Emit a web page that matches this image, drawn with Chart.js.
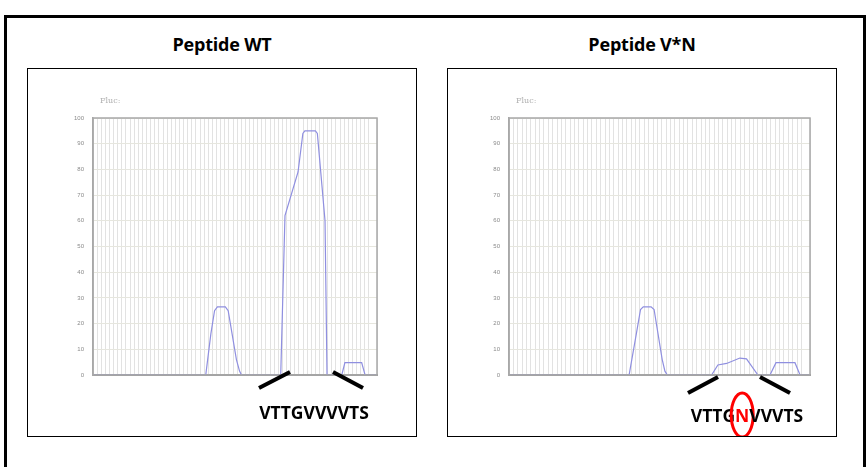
<!DOCTYPE html>
<html lang="en">
  <head>
    <meta charset="UTF-8" />
    <title>Peptide WT / Peptide V*N</title>
    <script src="https://cdnjs.cloudflare.com/ajax/libs/Chart.js/4.4.1/chart.umd.min.js"></script>
    <style>
      * {
        margin: 0;
        padding: 0;
        box-sizing: border-box;
      }

      body {
        width: 868px;
        height: 467px;
        background: #fff;
        overflow: hidden;
        position: relative;
        font-family: "Open Sans", sans-serif;
      }

      .frame {
        position: absolute;
        left: 4px;
        top: 15px;
        width: 862px;
        height: 470px;
        border: 3px solid #000;
      }

      .title {
        position: absolute;
        top: 32px;
        width: 390px;
        text-align: center;
        font-weight: 700;
        font-size: 18px;
        letter-spacing: -0.2px;
        color: #000;
      }

      .panel {
        position: absolute;
        top: 68px;
        width: 390px;
        height: 369px;
        border: 1px solid #000;
      }

      .panel canvas {
        display: block;
      }
    </style>
  </head>

  <body>
    <div class="frame"></div>
    <div class="title" style="left: 27px">Peptide WT</div>
    <div class="title" style="left: 447px">Peptide V*N</div>
    <div class="panel" style="left: 27px">
      <canvas id="wt" width="388" height="367"></canvas>
    </div>
    <div class="panel" style="left: 447px">
      <canvas id="mut" width="388" height="367"></canvas>
    </div>

    <script>
      // position along the peptide (0-100) and signal level
      const wtPos = [0, 39.7, 41.5, 42.8, 43.8, 46.6, 47.6, 50.5, 51.6, 52.3, 66.1, 67.6, 72.2, 73.9, 74.6, 78.3, 79.0, 81.7, 82.4, 87.6, 88.7, 94.6, 95.8, 100];
      const wtVal = [0, 0, 16, 25, 26.5, 26.5, 25, 6, 1.5, 0, 0, 62, 79, 94, 95, 95, 94, 60, 0, 0, 4.8, 4.8, 0, 0];

      const vnPos = [0, 39.9, 42.3, 43.7, 44.6, 47.2, 48.2, 50.9, 51.8, 52.6, 67.3, 69.4, 72.3, 76.7, 78.9, 82.7, 86.7, 88.7, 95.0, 96.7, 100];
      const vnVal = [0, 0, 16, 25.5, 26.5, 26.5, 25.5, 6, 1.5, 0, 0, 3.9, 4.5, 6.6, 6.3, 0, 0, 4.8, 4.8, 0, 0];

      const yTicks = [0, 10, 20, 30, 40, 50, 60, 70, 80, 90, 100];

      const toPoints = (pos, val) => pos.map((p, i) => ({ x: p, y: val[i] }));

      // plot frame, small axis caption, and the sequence markers under each plot
      const decor = {
        id: "decor",
        afterDraw(chart) {
          const opts = chart.options.plugins.decor;
          const ctx = chart.ctx;
          const a = chart.chartArea;
          ctx.save();
          ctx.strokeStyle = "#a8a8a8";
          ctx.lineWidth = 1.5;
          ctx.strokeRect(a.left, a.top, a.right - a.left, a.bottom - a.top);

          ctx.fillStyle = "#b0b0b0";
          ctx.font = "8px 'DejaVu Serif', serif";
          ctx.textBaseline = "middle";
          ctx.fillText("Fluc:", a.left + 7, 32);

          // black pointer strokes
          ctx.strokeStyle = "#000";
          ctx.lineWidth = 4;
          ctx.lineCap = "butt";
          opts.strokes.forEach((s) => {
            ctx.beginPath();
            ctx.moveTo(s[0], s[1]);
            ctx.lineTo(s[2], s[3]);
            ctx.stroke();
          });

          // sequence text, with an optional highlighted letter
          ctx.font = "bold 17.5px 'Open Sans', sans-serif";
          ctx.textBaseline = "alphabetic";
          ctx.textAlign = "left";
          const seq = opts.seq;
          const total = ctx.measureText(seq).width;
          let x = opts.seqX - total / 2;
          for (let i = 0; i < seq.length; i++) {
            const ch = seq[i];
            ctx.fillStyle = i === opts.mark ? "#ff0000" : "#000";
            ctx.fillText(ch, x, opts.seqY);
            if (i === opts.mark) {
              const w = ctx.measureText(ch).width;
              ctx.strokeStyle = "#ff0000";
              ctx.lineWidth = 3;
              ctx.beginPath();
              ctx.ellipse(x + w / 2, opts.seqY - 7, 11, 22, 0, 0, Math.PI * 2);
              ctx.stroke();
            }
            x += ctx.measureText(ch).width;
          }
          ctx.restore();
        },
      };

      function makeChart(id, points, padLeft, padRight, deco) {
        return new Chart(document.getElementById(id), {
          type: "line",
          plugins: [decor],
          data: {
            datasets: [
              {
                data: points,
                borderColor: "#8f8fe0",
                borderWidth: 1.2,
                pointRadius: 0,
                tension: 0,
                fill: false,
              },
            ],
          },
          options: {
            responsive: false,
            animation: false,
            layout: {
              padding: { left: 0, right: padRight, top: 49, bottom: 61 },
            },
            plugins: {
              legend: { display: false },
              tooltip: { enabled: false },
              decor: deco,
            },
            scales: {
              x: {
                type: "linear",
                min: 0,
                max: 100,
                ticks: { display: false, stepSize: 1.45 },
                grid: { color: "#e2e2e2", lineWidth: 1, drawTicks: false },
                border: { color: "#9a9a9a", width: 2 },
              },
              y: {
                min: 0,
                max: 100,
                afterBuildTicks: (scale) => {
                  scale.ticks = yTicks.map((v) => ({ value: v }));
                },
                afterFit: (scale) => {
                  scale.width = padLeft;
                },
                ticks: {
                  color: "#8a8a8a",
                  font: { size: 6 },
                  padding: 9,
                },
                grid: { color: "#e6e6de", drawTicks: false },
                border: { color: "#a8a8a8", width: 1.5 },
              },
            },
          },
        });
      }

      makeChart("wt", toPoints(wtPos, wtVal), 65, 39, {
        strokes: [
          [231, 319, 262, 303],
          [305, 303, 335, 319],
        ],
        seq: "VTTGVVVVTS",
        seqX: 286,
        seqY: 350,
        mark: -1,
      });

      makeChart("mut", toPoints(vnPos, vnVal), 61, 26, {
        strokes: [
          [240, 324, 270, 308],
          [312, 308, 342, 324],
        ],
        seq: "VTTGNVVVTS",
        seqX: 299,
        seqY: 353,
        mark: 4,
      });
    </script>
  </body>
</html>
